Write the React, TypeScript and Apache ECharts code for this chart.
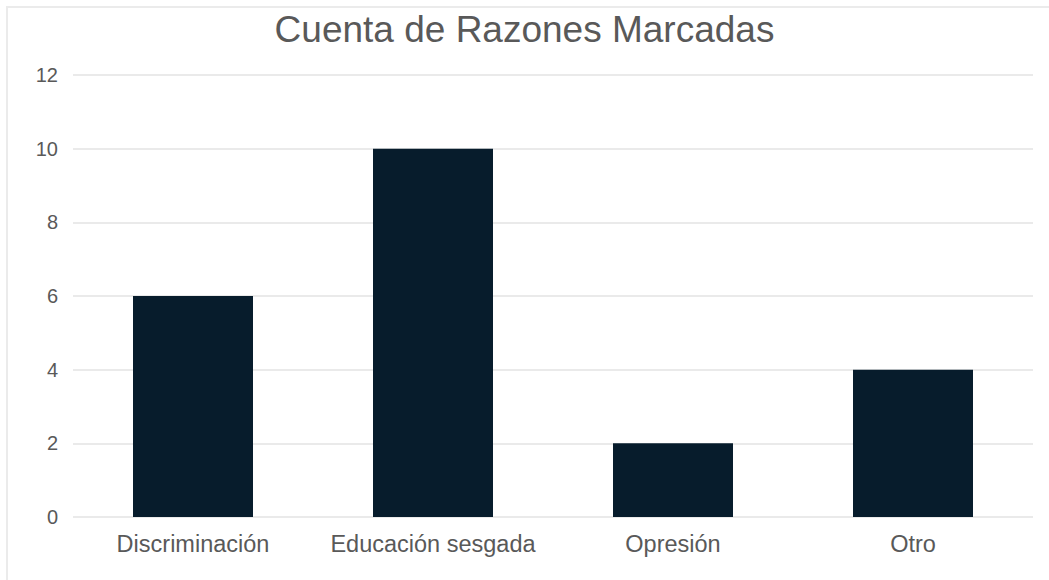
import React, { useEffect, useRef } from "react";
import * as echarts from "echarts";

const categories = ["Discriminación", "Educación sesgada", "Opresión", "Otro"];
const counts = [6, 10, 2, 4];
const titleText = "Cuenta de Razones Marcadas";

export default function App() {
  const ref = useRef<HTMLDivElement>(null);
  useEffect(() => {
    if (!ref.current) return;
    const chart = echarts.init(ref.current, undefined, { renderer: "svg" });
    chart.setOption({
      animation: false,
      backgroundColor: "#ffffff",
      title: {
        text: titleText,
        left: "center",
        top: 6,
        textStyle: {
          fontFamily: "Liberation Sans, Arial, sans-serif",
          fontSize: 37,
          fontWeight: "normal",
          color: "#595959",
        },
      },
      graphic: [
        {
          type: "rect",
          shape: { x: 7, y: 7, width: 1200, height: 800 },
          style: { fill: "none", stroke: "#ebebeb", lineWidth: 2 },
          silent: true,
        },
      ],
      grid: { left: 73, right: 16, top: 75, bottom: 63, containLabel: false },
      xAxis: {
        type: "category",
        data: categories,
        axisLine: { show: false },
        axisTick: { show: false },
        axisLabel: {
          interval: 0,
          hideOverlap: false,
          margin: 15,
          fontFamily: "Liberation Sans, Arial, sans-serif",
          fontSize: 23.5,
          color: "#595959",
        },
      },
      yAxis: {
        type: "value",
        min: 0,
        max: 12,
        interval: 2,
        axisLine: { show: false },
        axisTick: { show: false },
        splitLine: { lineStyle: { color: "#e3e3e3", width: 1.5 } },
        axisLabel: {
          margin: 15,
          fontFamily: "Liberation Sans, Arial, sans-serif",
          fontSize: 20,
          color: "#595959",
        },
      },
      series: [
        {
          type: "bar",
          data: counts,
          barWidth: "50%",
          itemStyle: { color: "#071c2c" },
        },
      ],
    });
    return () => chart.dispose();
  }, []);
  return (
    <div
      ref={ref}
      style={{ position: "fixed", left: 0, top: 0, width: 1049, height: 580 }}
    />
  );
}
